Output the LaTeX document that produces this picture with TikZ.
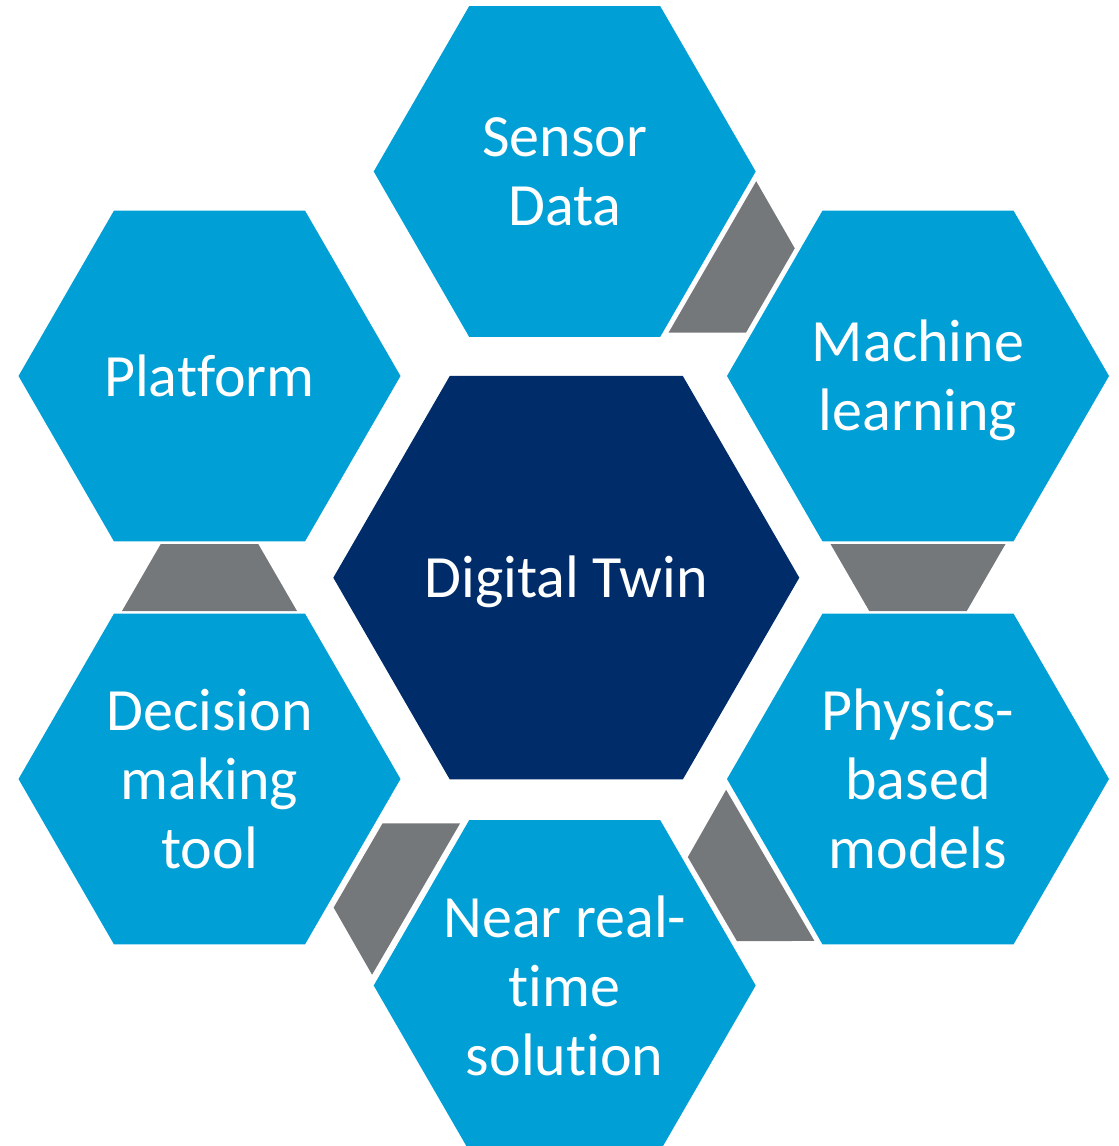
\documentclass[tikz,border=0pt]{standalone}
\usepackage{fontspec}
\setmainfont{Carlito}[Ligatures={NoCommon}]
\usetikzlibrary{calc}

\definecolor{hexblue}{RGB}{0,159,214}
\definecolor{hexnavy}{RGB}{0,45,106}
\definecolor{linkgray}{RGB}{117,120,123}

% flat-topped hexagon of circumradius #2 around coordinate #1
\newcommand\hexfill[3]{%
  \fill[#3] (#1) ++(0:#2) -- ++(120:#2) -- ++(180:#2) -- ++(240:#2)
    -- ++(300:#2) -- ++(0:#2) -- cycle;}

% gray trapezoid bridging hexagon #1 (wide side) and hexagon #2 (narrow side)
\newcommand\hexlink[2]{%
  \coordinate (m) at ($(#1)!0.5!(#2)$);
  \coordinate (w) at ($(m)!33.5pt!(#1)$);
  \coordinate (n) at ($(m)!33.5pt!(#2)$);
  \fill[linkgray] ($(w)!87.5pt!90:(#1)$) -- ($(w)!87.5pt!-90:(#1)$)
    -- ($(n)!48.75pt!90:(#2)$) -- ($(n)!48.75pt!-90:(#2)$) -- cycle;}

\tikzset{
  hexlabel/.style={text=white, align=center, inner sep=0pt,
    font=\fontsize{60}{69}\selectfont},
}

\begin{document}
\begin{tikzpicture}[x=1pt, y=-1pt]
  \useasboundingbox (0,0) rectangle (1119,1146);

  % hexagon centres
  \coordinate (twin-c)     at (566.3,577.7);
  \coordinate (sensor-c)   at (564.7,171.5);
  \coordinate (machine-c)  at (918,376);
  \coordinate (physics-c)  at (918,779);
  \coordinate (near-c)     at (564.7,985.5);
  \coordinate (decision-c) at (209.5,779);
  \coordinate (platform-c) at (209.5,376);

  % hexagons
  \hexfill{twin-c}{233}{hexnavy}
  \hexfill{sensor-c}{191}{hexblue}
  \hexfill{machine-c}{191}{hexblue}
  \hexfill{physics-c}{191}{hexblue}
  \hexfill{near-c}{191}{hexblue}
  \hexfill{decision-c}{191}{hexblue}
  \hexfill{platform-c}{191}{hexblue}

  % connecting pieces, clockwise
  \hexlink{sensor-c}{machine-c}
  \hexlink{machine-c}{physics-c}
  \hexlink{physics-c}{near-c}
  \hexlink{near-c}{decision-c}
  \hexlink{decision-c}{platform-c}

  % labels
  \node[hexlabel] (twin)     at ($(twin-c)+(0,4)$)    {Digital Twin};
  \node[hexlabel] (sensor)   at (sensor-c)            {Sensor\\Data};
  \node[hexlabel] (machine)  at ($(machine-c)+(0,4)$) {Machine\\learning};
  \node[hexlabel] (physics)  at (physics-c)           {Physics-\\based\\models};
  \node[hexlabel] (near)     at (near-c)              {Near real-\\time\\solution};
  \node[hexlabel] (decision) at (decision-c)          {Decision\\making\\tool};
  \node[hexlabel] (platform) at (platform-c)          {Platform};
\end{tikzpicture}
\end{document}
